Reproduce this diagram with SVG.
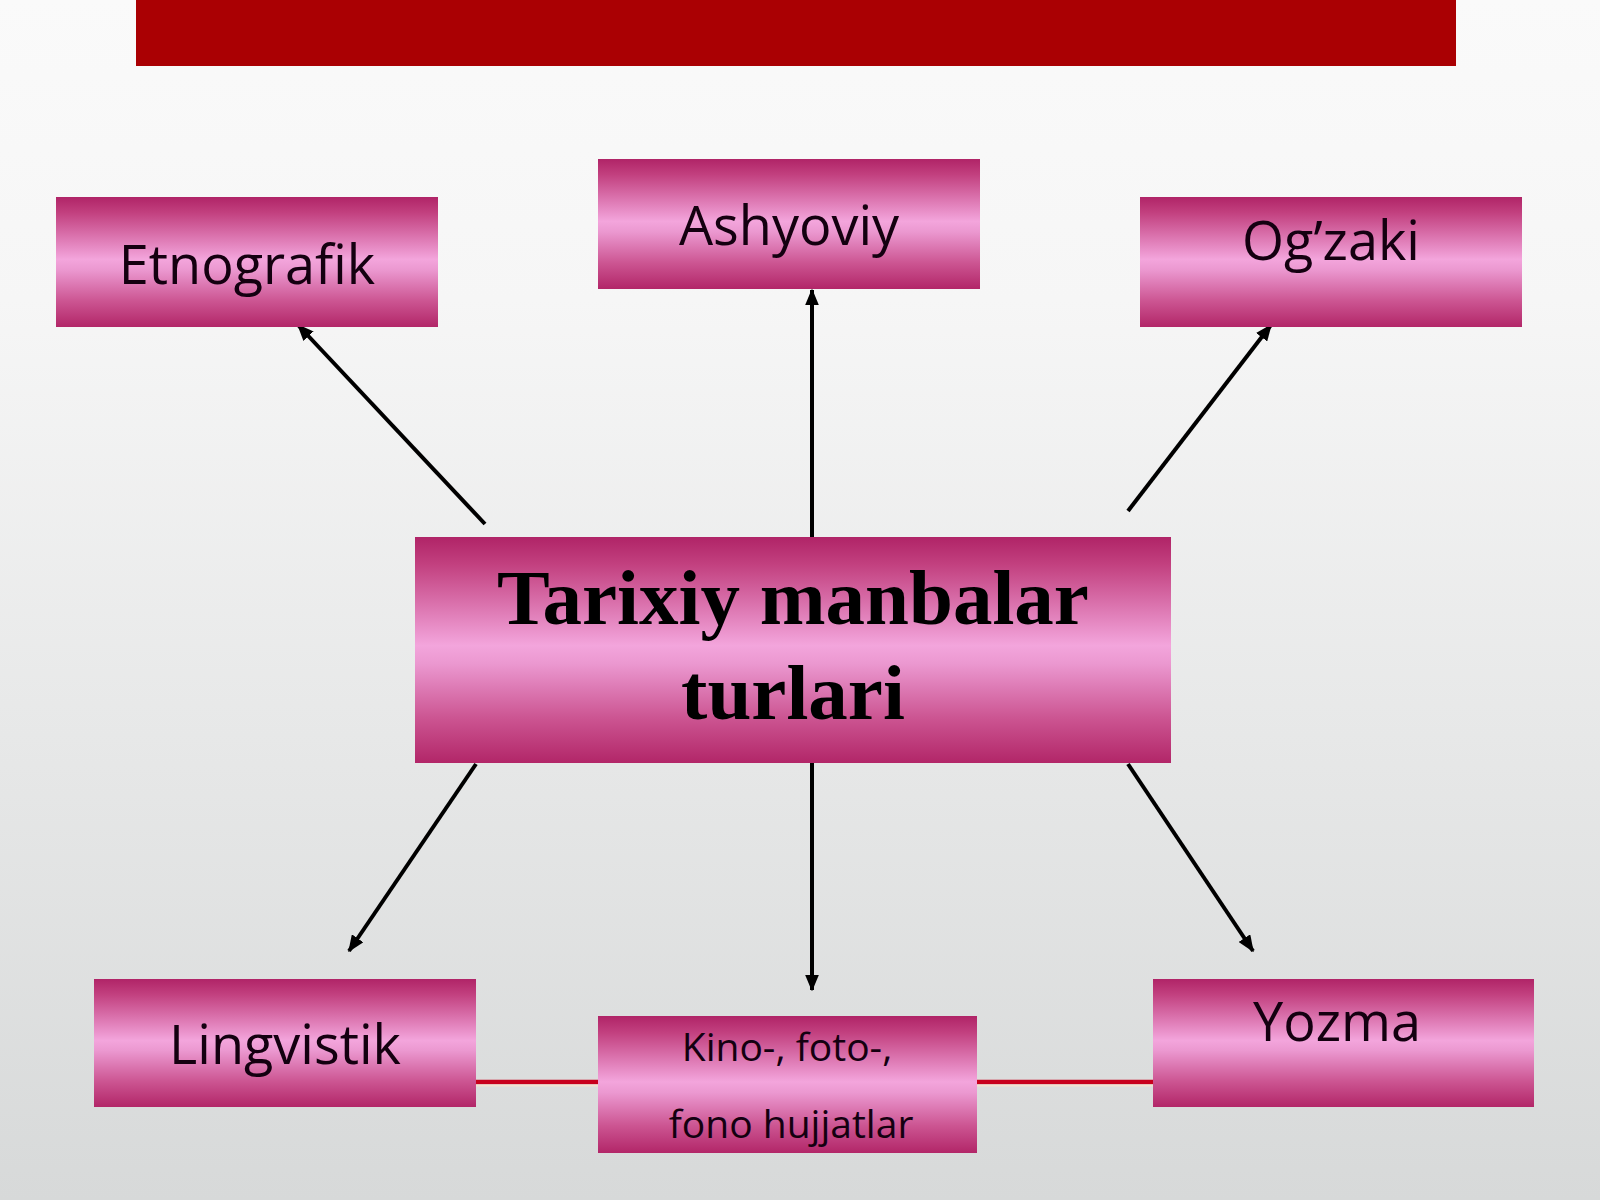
<svg xmlns="http://www.w3.org/2000/svg" width="1600" height="1200" viewBox="0 0 1600 1200">
<defs>
<linearGradient id="bg" x1="0" y1="0" x2="0" y2="1">
<stop offset="0" stop-color="#fafafa"/>
<stop offset="0.25" stop-color="#f6f6f6"/>
<stop offset="1" stop-color="#d7d9d9"/>
</linearGradient>
<linearGradient id="box" x1="0" y1="0" x2="0" y2="1">
<stop offset="0" stop-color="#b02467"/>
<stop offset="0.12" stop-color="#c2407f"/>
<stop offset="0.48" stop-color="#f3a5dc"/>
<stop offset="0.56" stop-color="#eb98d0"/>
<stop offset="0.8" stop-color="#cc5592"/>
<stop offset="1" stop-color="#b22668"/>
</linearGradient>
<marker id="ah" viewBox="0 0 12 10" refX="11" refY="5" markerWidth="4.2" markerHeight="3.5" orient="auto" markerUnits="strokeWidth">
<path d="M0,0 L12,5 L0,10 Z" fill="#000"/>
</marker>
<style>
.box{fill:url(#box);}
.lbl{font-family:"Open Sans","Noto Sans",sans-serif;fill:#140010;text-anchor:middle;}
.big{font-family:"Liberation Serif","Times New Roman",serif;font-weight:bold;fill:#000;text-anchor:middle;font-size:79px;}
.arr{stroke:#000;stroke-width:4;fill:none;marker-end:url(#ah);}
</style>
</defs>
<rect width="1600" height="1200" fill="url(#bg)"/>
<rect x="136" y="0" width="1320" height="66" fill="#aa0003"/>
<g id="redline">
<line x1="470" y1="1082" x2="1160" y2="1082" stroke="#c8001c" stroke-width="4.5"/>
<line x1="470" y1="1085.5" x2="1160" y2="1085.5" stroke="#f3e2d0" stroke-width="2"/>
</g>
<g id="connectors">
<line class="arr" x1="485" y1="524" x2="298" y2="325"/>
<line class="arr" x1="812" y1="537" x2="812" y2="290"/>
<line class="arr" x1="1128" y1="511" x2="1271" y2="325"/>
<line class="arr" x1="476" y1="764" x2="349" y2="951"/>
<line class="arr" x1="812" y1="763" x2="812" y2="990"/>
<line class="arr" x1="1128" y1="764" x2="1253" y2="951"/>
</g>
<g id="etnografik">
<rect class="box" x="56" y="197" width="382" height="130"/>
<text class="lbl" x="247" y="284" font-size="54">Etnografik</text>
</g>
<g id="ashyoviy">
<rect class="box" x="598" y="159" width="382" height="130"/>
<text class="lbl" x="789" y="245" font-size="54">Ashyoviy</text>
</g>
<g id="ogzaki">
<rect class="box" x="1140" y="197" width="382" height="130"/>
<text class="lbl" x="1331" y="260" font-size="54">Og’zaki</text>
</g>
<g id="center">
<rect class="box" x="415" y="537" width="756" height="226"/>
<text class="big" x="793" y="624">Tarixiy manbalar</text>
<text class="big" x="793" y="719">turlari</text>
</g>
<g id="lingvistik">
<rect class="box" x="94" y="979" width="382" height="128"/>
<text class="lbl" x="285" y="1064" font-size="54">Lingvistik</text>
</g>
<g id="kino">
<rect class="box" x="598" y="1016" width="379" height="137"/>
<text class="lbl" x="787" y="1061" font-size="39">Kino-, foto-,</text>
<text class="lbl" x="791" y="1138" font-size="39">fono hujjatlar</text>
</g>
<g id="yozma">
<rect class="box" x="1153" y="979" width="381" height="128"/>
<text class="lbl" x="1337" y="1041" font-size="54">Yozma</text>
</g>
</svg>
